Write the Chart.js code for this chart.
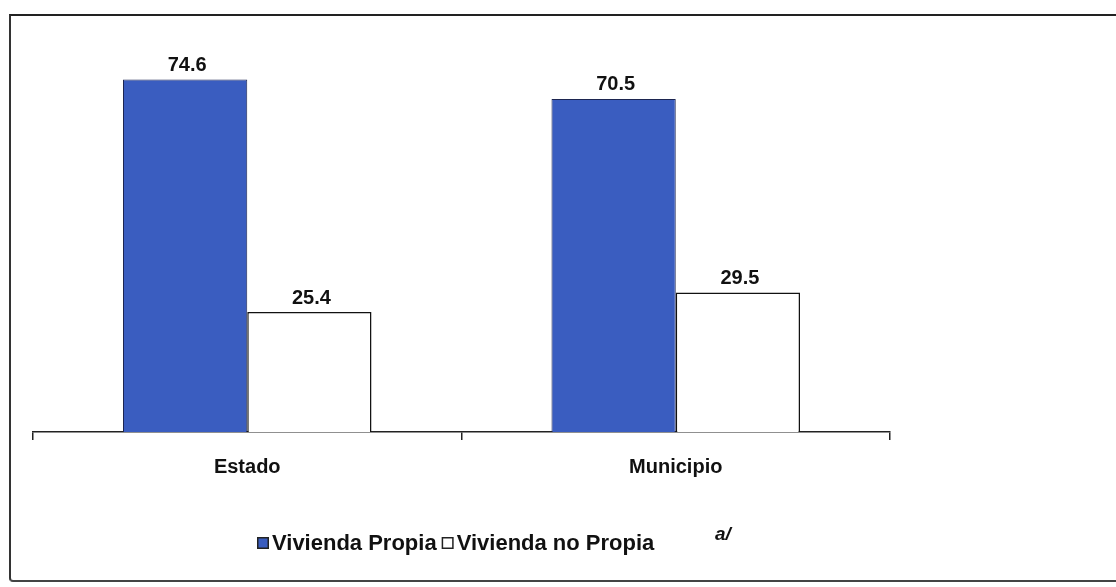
<!DOCTYPE html>
<html>
<head>
<meta charset="utf-8">
<script src="https://cdn.jsdelivr.net/npm/chart.js@4"></script>
<style>
  html, body { margin: 0; padding: 0; background: #fff; }
  #wrap { position: relative; width: 1116px; height: 587px; overflow: hidden; }
  #frame { position: absolute; left: 9px; top: 14px; width: 1120px; height: 564px;
           border-left: 2px solid #333; border-top: 2px solid #222; border-bottom: 2px solid #444;
           border-bottom-left-radius: 4px; pointer-events: none; }
  canvas { position: absolute; left: 0; top: 0; }
</style>
</head>
<body>
<div id="wrap">
  <canvas id="c" width="1116" height="587"></canvas>
  <div id="frame"></div>
</div>
<script>
const categories = ["Estado", "Municipio"];
const seriesNames = ["Vivienda Propia", "Vivienda no Propia"];
const viviendaPropia = [74.6, 70.5];
const viviendaNoPropia = [25.4, 29.5];
const footnote = "a/";

const BLUE = "#3a5dc0";
const FONT = "'Liberation Sans', Arial, sans-serif";

const valueLabels = {
  id: "valueLabels",
  afterDatasetsDraw(chart) {
    const ctx = chart.ctx;
    ctx.save();
    ctx.font = "bold 20px " + FONT;
    ctx.fillStyle = "#111";
    ctx.textAlign = "center";
    ctx.textBaseline = "bottom";
    chart.data.datasets.forEach((ds, i) => {
      chart.getDatasetMeta(i).data.forEach((bar, j) => {
        ctx.fillText(ds.data[j].toFixed(1), bar.x + 2, bar.y - 4);
      });
    });
    ctx.restore();
  }
};

const customLegend = {
  id: "customLegend",
  afterDraw(chart) {
    const ctx = chart.ctx;
    ctx.save();
    ctx.font = "bold 22px " + FONT;
    ctx.textBaseline = "middle";
    ctx.textAlign = "left";
    let x = 257;
    const y = 543;
    chart.data.datasets.forEach((ds, i) => {
      ctx.fillStyle = ds.backgroundColor;
      ctx.fillRect(x, y - 6, 12, 12);
      ctx.strokeStyle = "#222";
      ctx.lineWidth = 1.5;
      ctx.strokeRect(x + 0.75, y - 5.25, 10.5, 10.5);
      ctx.fillStyle = "#111";
      ctx.fillText(ds.label, x + 15, y + 1);
      x += 15 + ctx.measureText(ds.label).width + 5;
    });
    ctx.font = "italic bold 19px " + FONT;
    ctx.fillText(footnote, 715, 535);
    ctx.restore();
  }
};

new Chart(document.getElementById("c"), {
  type: "bar",
  data: {
    labels: categories,
    datasets: [
      { label: seriesNames[0], data: viviendaPropia, backgroundColor: BLUE,
        borderColor: "#1c2550", borderWidth: 1 },
      { label: seriesNames[1], data: viviendaNoPropia, backgroundColor: "#ffffff",
        borderColor: "#111", borderWidth: 1.5 }
    ]
  },
  options: {
    responsive: false,
    animation: false,
    layout: { padding: { left: 33, right: 226, top: 54, bottom: 0 } },
    datasets: { bar: { barPercentage: 1, categoryPercentage: 0.58 } },
    plugins: {
      legend: { display: false },
      tooltip: { enabled: false }
    },
    scales: {
      x: {
        afterFit(scale) { scale.height = 155; },
        grid: { display: true, drawOnChartArea: false, drawTicks: true, tickLength: 8,
                color: "#222", lineWidth: 1.5, offset: true },
        border: { display: true, color: "#222", width: 1.5 },
        ticks: { color: "#111", font: { family: FONT, size: 20, weight: "bold" }, padding: 15 }
      },
      y: {
        display: false,
        min: 0,
        max: 80
      }
    }
  },
  plugins: [valueLabels, customLegend]
});
</script>
</body>
</html>
